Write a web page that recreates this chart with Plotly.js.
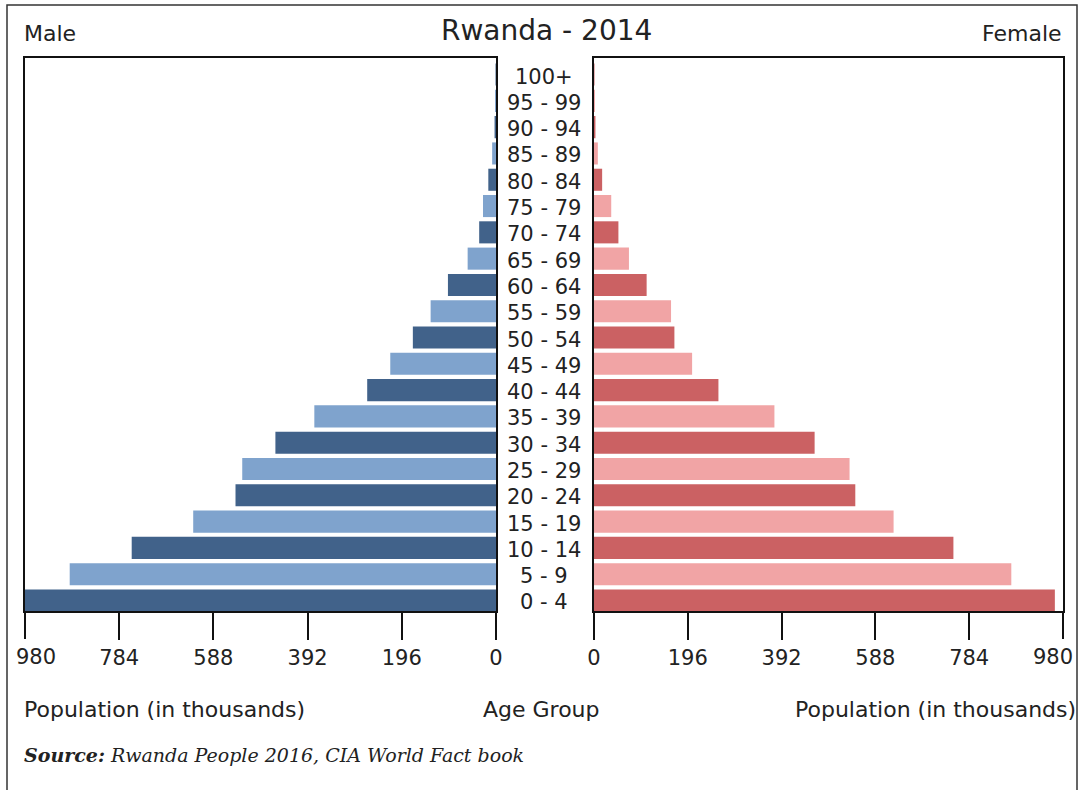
<!DOCTYPE html>
<html>
<head>
<meta charset="utf-8">
<script src="https://cdn.plot.ly/plotly-3.0.1.min.js"></script>
<style>html,body{margin:0;padding:0;background:#fff;}#chart{width:1083px;height:790px;}</style>
</head>
<body>
<div id="chart"></div>
<script>
const ageGroups = ["0 - 4","5 - 9","10 - 14","15 - 19","20 - 24","25 - 29","30 - 34","35 - 39","40 - 44","45 - 49","50 - 54","55 - 59","60 - 64","65 - 69","70 - 74","75 - 79","80 - 84","85 - 89","90 - 94","95 - 99","100+"];
const male   = [982, 887, 758, 630, 542, 528, 459, 378, 268, 220, 173, 136, 100, 59, 35, 27, 16, 8, 3, 2, 1];
const female = [963, 872, 751, 626, 546, 534, 461, 377, 260, 205, 168, 161, 110, 73, 51, 36, 17, 8, 3, 2, 1];
const tickVals = [0, 196, 392, 588, 784];
const tickText = ["0", "196", "392", "588", "784"];
const endTickVals = [980];
const endTickText = ["980"];

const maleColors = ageGroups.map((_, i) => i % 2 === 0 ? "#41628a" : "#7fa3cd");
const femaleColors = ageGroups.map((_, i) => i % 2 === 0 ? "#cb6163" : "#f1a4a5");

const W = 1083, H = 790;
const px = v => v / W;
const py = v => 1 - v / H;

const traces = [
  {type: "bar", orientation: "h", y: ageGroups, x: male, xaxis: "x", yaxis: "y",
   marker: {color: maleColors, line: {width: 0}}, hoverinfo: "x+y", name: "Male"},
  {type: "bar", orientation: "h", y: ageGroups, x: female, xaxis: "x2", yaxis: "y2",
   marker: {color: femaleColors, line: {width: 0}}, hoverinfo: "x+y", name: "Female"},
  {type: "scatter", mode: "markers", x: [], y: [], xaxis: "x3", yaxis: "y", hoverinfo: "skip"},
  {type: "scatter", mode: "markers", x: [], y: [], xaxis: "x4", yaxis: "y2", hoverinfo: "skip"}
];

const font = "DejaVu Sans, Verdana, sans-serif";
const axisCommon = {
  showgrid: false, zeroline: false, showline: true, mirror: true,
  linecolor: "#111", linewidth: 2, ticks: "outside", ticklen: 27, tickwidth: 2,
  tickcolor: "#111", tickvals: tickVals, ticktext: tickText,
  tickfont: {family: font, size: 21, color: "#222"}, fixedrange: true
};
const endAxis = {
  showgrid: false, zeroline: false, showline: false,
  ticks: "outside", ticklen: 27, tickwidth: 2, tickcolor: "#111",
  tickvals: endTickVals, ticktext: endTickText, ticklabeloverflow: "allow",
  tickfont: {family: font, size: 21, color: "#222"}, fixedrange: true
};
const yCommon = {
  type: "category", categoryorder: "array", categoryarray: ageGroups,
  range: [-0.40, 20.63], showticklabels: false, ticks: "", showgrid: false,
  zeroline: false, showline: true, mirror: true, linecolor: "#111", linewidth: 2,
  domain: [py(611), py(58)], fixedrange: true
};

const annotations = ageGroups.map(a => ({
  xref: "paper", yref: "y", x: px(544), y: a, text: a, showarrow: false,
  xanchor: "center", yanchor: "middle", yshift: -2,
  font: {family: font, size: 21, color: "#222"}
}));
annotations.push(
  {xref: "paper", yref: "paper", x: px(546), y: py(31), text: "Rwanda - 2014", showarrow: false,
   xanchor: "center", yanchor: "middle", font: {family: font, size: 28, color: "#222"}},
  {xref: "paper", yref: "paper", x: px(22), y: py(33), text: "Male", showarrow: false,
   xanchor: "left", yanchor: "middle", font: {family: font, size: 22, color: "#222"}},
  {xref: "paper", yref: "paper", x: px(1064), y: py(33), text: "Female", showarrow: false,
   xanchor: "right", yanchor: "middle", font: {family: font, size: 22, color: "#222"}},
  {xref: "paper", yref: "paper", x: px(22), y: py(709), text: "Population (in thousands)", showarrow: false,
   xanchor: "left", yanchor: "middle", font: {family: font, size: 22, color: "#222"}},
  {xref: "paper", yref: "paper", x: px(541), y: py(709), text: "Age Group", showarrow: false,
   xanchor: "center", yanchor: "middle", font: {family: font, size: 22, color: "#222"}},
  {xref: "paper", yref: "paper", x: px(1078), y: py(709), text: "Population (in thousands)", showarrow: false,
   xanchor: "right", yanchor: "middle", font: {family: font, size: 22, color: "#222"}},
  {xref: "paper", yref: "paper", x: px(22), y: py(755),
   text: "<b><i>Source:</i></b><i> Rwanda People 2016, CIA World Fact book</i>", showarrow: false,
   xanchor: "left", yanchor: "middle", font: {family: "DejaVu Serif, serif", size: 19, color: "#222"}}
);

const leftDomain = [px(25), px(496)];
const rightDomain = [px(594), px(1063)];

const layout = {
  width: W, height: H, margin: {l: 0, r: 0, t: 0, b: 0, pad: 0},
  paper_bgcolor: "#fff", plot_bgcolor: "#fff", showlegend: false,
  bargap: 0.16,
  xaxis: Object.assign({}, axisCommon, {domain: leftDomain, range: [980, 0], anchor: "y"}),
  xaxis2: Object.assign({}, axisCommon, {domain: rightDomain, range: [0, 980], anchor: "y2"}),
  xaxis3: Object.assign({}, endAxis, {domain: leftDomain, range: [980, 0], anchor: "y", overlaying: "x", side: "bottom", ticklabelshift: -11}),
  xaxis4: Object.assign({}, endAxis, {domain: rightDomain, range: [0, 980], anchor: "y2", overlaying: "x2", side: "bottom", ticklabelshift: -10}),
  yaxis: Object.assign({}, yCommon, {anchor: "x"}),
  yaxis2: Object.assign({}, yCommon, {anchor: "x2"}),
  annotations: annotations,
  shapes: [
    {type: "rect", xref: "paper", yref: "paper", x0: px(7), x1: px(1077), y0: py(800), y1: py(5),
     line: {color: "#333", width: 1.5}, fillcolor: "rgba(0,0,0,0)"}
  ]
};

Plotly.newPlot("chart", traces, layout, {displayModeBar: false, staticPlot: true});
</script>
</body>
</html>
